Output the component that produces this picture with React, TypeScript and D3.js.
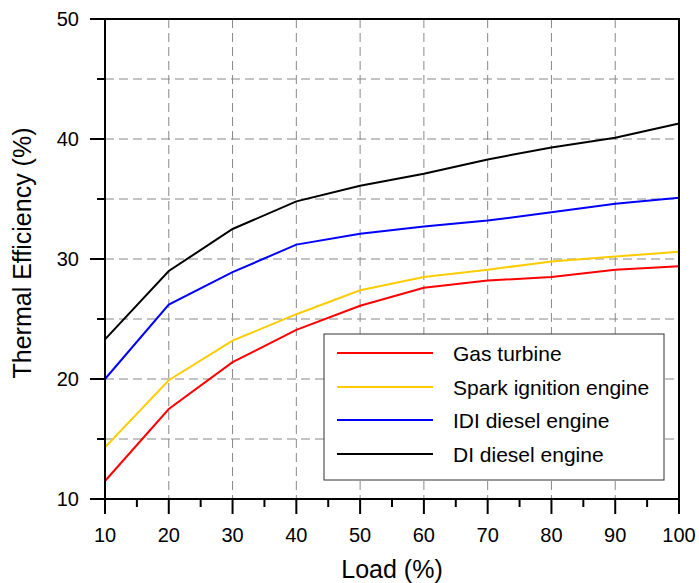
import React from "react";
import * as d3 from "d3";

const loads = [10, 20, 30, 40, 50, 60, 70, 80, 90, 100];
const seriesNames = ["Gas turbine", "Spark ignition engine", "IDI diesel engine", "DI diesel engine"];
const seriesColors = ["#ff0000", "#ffcc00", "#0000ff", "#000000"];
const gasTurbine = [11.5, 17.5, 21.4, 24.1, 26.1, 27.6, 28.2, 28.5, 29.1, 29.4];
const sparkIgnition = [14.3, 19.9, 23.2, 25.4, 27.4, 28.5, 29.1, 29.8, 30.2, 30.6];
const idiDiesel = [20.0, 26.2, 28.9, 31.2, 32.1, 32.7, 33.2, 33.9, 34.6, 35.1];
const diDiesel = [23.3, 29.0, 32.5, 34.8, 36.1, 37.1, 38.3, 39.3, 40.1, 41.3];
const xTicks = [10, 20, 30, 40, 50, 60, 70, 80, 90, 100];
const yTicks = [10, 20, 30, 40, 50];

const W = 699;
const H = 583;
const left = 105;
const right = 679;
const top = 19;
const bottom = 499;
const font = "Arial, 'Liberation Sans', sans-serif";

export default function App() {
  const x = d3.scaleLinear().domain([10, 100]).range([left, right]);
  const y = d3.scaleLinear().domain([10, 50]).range([bottom, top]);
  const allSeries = [gasTurbine, sparkIgnition, idiDiesel, diDiesel];
  const line = d3
    .line<number>()
    .x((_, i) => x(loads[i]))
    .y((d) => y(d));

  const xMinor = d3.range(15, 100, 10);
  const yMinor = d3.range(15, 50, 10);
  const xGrid = d3.range(20, 100, 10);
  const yGrid = d3.range(15, 50, 5);

  const lg = { x: 324, y: 334, w: 340, h: 146 };
  const rowYs = [353, 387, 420, 454];

  return (
    <svg width={W} height={H} style={{ position: "absolute", left: 0, top: 0, background: "#fff" }}>
      <rect x={0} y={0} width={W} height={H} fill="#fff" />
      {/* grid */}
      <g stroke="#888" strokeWidth={1} strokeDasharray="9,5">
        {xGrid.map((v) => (
          <line key={"gx" + v} x1={x(v)} x2={x(v)} y1={top} y2={bottom} />
        ))}
        {yGrid.map((v) => (
          <line key={"gy" + v} x1={left} x2={right} y1={y(v)} y2={y(v)} />
        ))}
      </g>
      {/* series */}
      {allSeries.map((s, i) => (
        <path key={i} d={line(s) || ""} fill="none" stroke={seriesColors[i]} strokeWidth={2} />
      ))}
      {/* frame */}
      <rect x={left} y={top} width={right - left} height={bottom - top} fill="none" stroke="#000" strokeWidth={2} />
      {/* ticks */}
      <g stroke="#000" strokeWidth={2}>
        {xTicks.map((v) => (
          <line key={"xt" + v} x1={x(v)} x2={x(v)} y1={bottom} y2={bottom + 15} />
        ))}
        {xMinor.map((v) => (
          <line key={"xm" + v} x1={x(v)} x2={x(v)} y1={bottom} y2={bottom + 8} />
        ))}
        {yTicks.map((v) => (
          <line key={"yt" + v} x1={left - 15} x2={left} y1={y(v)} y2={y(v)} />
        ))}
        {yMinor.map((v) => (
          <line key={"ym" + v} x1={left - 8} x2={left} y1={y(v)} y2={y(v)} />
        ))}
      </g>
      {/* tick labels */}
      <g fontFamily={font} fontSize={20} fill="#000">
        {xTicks.map((v) => (
          <text key={"xl" + v} x={x(v)} y={542} textAnchor="middle">
            {v}
          </text>
        ))}
        {yTicks.map((v) => (
          <text key={"yl" + v} x={79} y={y(v) + 7} textAnchor="end">
            {v}
          </text>
        ))}
      </g>
      {/* axis titles */}
      <text x={(left + right) / 2} y={578} textAnchor="middle" fontFamily={font} fontSize={25} fill="#000">
        Load (%)
      </text>
      <text
        transform={`translate(31, 253) rotate(-90)`}
        textAnchor="middle"
        fontFamily={font}
        fontSize={25}
        fill="#000"
      >
        Thermal Efficiency (%)
      </text>
      {/* legend */}
      <rect x={lg.x} y={lg.y} width={lg.w} height={lg.h} fill="#fff" stroke="#333" strokeWidth={1} />
      {seriesNames.map((name, i) => (
        <g key={name}>
          <line x1={337} x2={433} y1={rowYs[i]} y2={rowYs[i]} stroke={seriesColors[i]} strokeWidth={2} />
          <text x={453} y={rowYs[i] + 7.5} fontFamily={font} fontSize={21} fill="#000">
            {name}
          </text>
        </g>
      ))}
    </svg>
  );
}
